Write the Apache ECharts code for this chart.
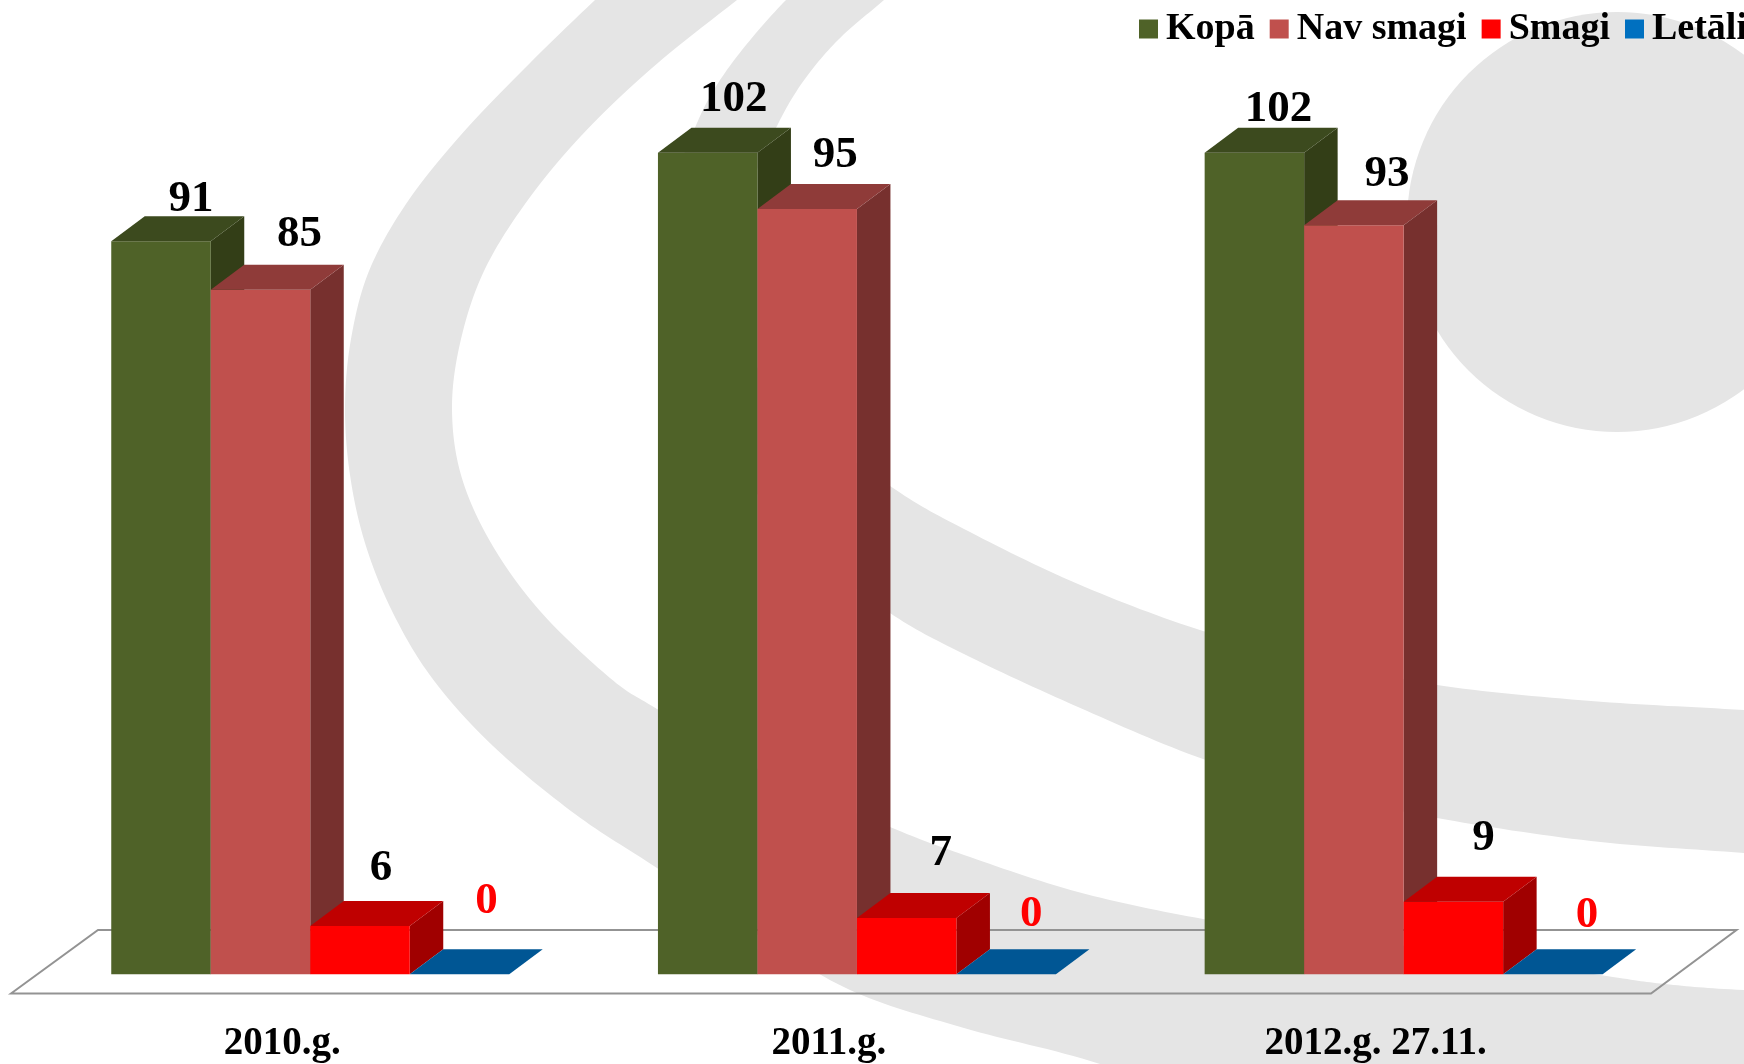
<!DOCTYPE html>
<html>
<head>
<meta charset="utf-8">
<title>Kopā / Nav smagi / Smagi / Letāli</title>
<script src="https://cdn.jsdelivr.net/npm/echarts@6/dist/echarts.min.js"></script>
<style>
  html, body { margin: 0; padding: 0; background: #fff; overflow: hidden; }
  #chart { width: 1744px; height: 1064px; }
</style>
</head>
<body>
<div id="chart"></div>
<script>
var categories = ['2010.g.', '2011.g.', '2012.g. 27.11.'];
var seriesNames = ['Kopā', 'Nav smagi', 'Smagi', 'Letāli'];

var kopa = [91, 102, 102];
var navSmagi = [85, 95, 93];
var smagi = [6, 7, 9];
var letali = [0, 0, 0];

// face colours of each box: legend/front, top, side
var frontColors = ['#4f6228', '#c0504d', '#ff0000', '#005694'];
var legendColors = ['#4f6228', '#c0504d', '#ff0000', '#0070c0'];
var topColors = ['#3c4a1e', '#8f3b39', '#bf0000', '#005694'];
var sideColors = ['#333e17', '#77302e', '#a00000', '#005694'];
var labelColors = ['#000', '#000', '#000', '#f00'];

// hand placed data labels, px from the middle of the box front top edge
var labelNudge = [
  [[30, -42], [26, -53], [24, -43]],
  [[39, -55], [28, -54], [33, -51]],
  [[21, -58], [34, -65], [30, -63]],
  [[27, -73], [25, -60], [34, -59]]
];

var serif = '"Liberation Serif", "Times New Roman", serif';
var depthX = 33.5;
var depthY = 25;

var myChart = echarts.init(document.getElementById('chart'));

function poly(points, fill) {
  return { type: 'polygon', shape: { points: points }, style: { fill: fill, stroke: null } };
}

// 3D looking box, drawn from the axis scales
function renderBox(params, api) {
  var s = params.seriesIndex;
  var i = params.dataIndex;
  var value = api.value(1);
  var base = api.coord([api.value(0), 0]);
  var top = api.coord([api.value(0), value]);
  var barW = api.size([1, 0])[0] * 0.182;
  var x0 = base[0] - 2 * barW + s * barW;
  var x1 = x0 + barW;
  var y0 = base[1];
  var y1 = top[1];
  var children = [];

  if (value > 0) {
    children.push(poly([[x1, y0], [x1 + depthX, y0 - depthY], [x1 + depthX, y1 - depthY], [x1, y1]], sideColors[s]));
    children.push(poly([[x0, y0], [x1, y0], [x1, y1], [x0, y1]], frontColors[s]));
  }
  children.push(poly([[x0, y1], [x1, y1], [x1 + depthX, y1 - depthY], [x0 + depthX, y1 - depthY]], topColors[s]));
  children.push({
    type: 'text',
    z2: 10,
    style: {
      text: String(value),
      x: (x0 + x1) / 2 + labelNudge[s][i][0],
      y: y1 + labelNudge[s][i][1],
      fill: labelColors[s],
      font: 'bold 45px ' + serif,
      textAlign: 'center',
      textVerticalAlign: 'middle'
    }
  });
  return { type: 'group', children: children };
}

function boxSeries(idx, values) {
  return {
    name: seriesNames[idx],
    type: 'custom',
    renderItem: renderBox,
    itemStyle: { color: legendColors[idx] },
    encode: { x: 0, y: 1 },
    data: values.map(function (v, i) { return [categories[i], v]; })
  };
}

// closed smooth outline through the given points, for the watermark shapes
function smoothOutline(pts) {
  var n = pts.length;
  var out = [];
  for (var i = 0; i < n; i++) {
    var p0 = pts[(i - 1 + n) % n], p1 = pts[i], p2 = pts[(i + 1) % n], p3 = pts[(i + 2) % n];
    for (var k = 0; k < 16; k++) {
      var t = k / 16;
      out.push([0, 1].map(function (c) {
        return 0.5 * (2 * p1[c] + (p2[c] - p0[c]) * t +
          (2 * p0[c] - 5 * p1[c] + 4 * p2[c] - p3[c]) * t * t +
          (3 * p1[c] - p0[c] - 3 * p2[c] + p3[c]) * t * t * t);
      }));
    }
  }
  return out;
}

var swooshOuter = [
  [640, -40], [595, 0], [525, 68], [460, 136], [406, 204], [369, 271], [351, 339], [345, 407],
  [350, 475], [365, 543], [392, 611], [432, 678], [493, 746], [575, 814], [657, 868], [750, 930],
  [850, 990], [964, 1028], [1100, 1064], [1250, 1120], [1900, 1120], [1900, 995], [1744, 990],
  [1665, 984], [1600, 975], [1437, 950], [1320, 936], [1203, 919], [1078, 892], [964, 855],
  [890, 827], [760, 770], [657, 709], [610, 678], [540, 611], [491, 543], [461, 475], [452, 407],
  [461, 339], [484, 271], [525, 204], [581, 136], [652, 68], [737, 0], [790, -40]
];
var swooshInner = [
  [830, -40], [786, 0], [742, 50], [712, 93], [692, 135], [672, 190], [665, 260], [680, 350],
  [740, 470], [810, 550], [890, 613], [964, 654], [1078, 707], [1203, 759], [1320, 792], [1437, 818],
  [1591, 841], [1744, 853], [1900, 865], [1900, 720], [1744, 710], [1591, 701], [1437, 685],
  [1320, 660], [1203, 631], [1078, 584], [964, 529], [890, 486], [790, 410], [745, 340], [737, 260],
  [750, 190], [775, 130], [802, 83], [838, 40], [884, 0], [930, -40]
];

var option = {
  backgroundColor: '#fff',
  animation: false,
  legend: {
    left: 1134,
    top: 5,
    width: 800,
    icon: 'rect',
    itemWidth: 19,
    itemHeight: 19,
    itemGap: 15,
    selectedMode: false,
    data: seriesNames,
    textStyle: {
      color: '#000',
      fontFamily: serif,
      fontWeight: 'bold',
      fontSize: 38,
      padding: [0, 0, 0, 3]
    }
  },
  grid: { left: 36.9, top: 7.7, width: 1640.1, height: 966.6, outerBoundsMode: 'none' },
  xAxis: {
    type: 'category',
    data: categories,
    axisLine: { show: false },
    axisTick: { show: false },
    axisLabel: {
      color: '#000',
      fontFamily: serif,
      fontWeight: 'bold',
      fontSize: 39,
      margin: 50,
      padding: [0, 56, 0, 0]
    }
  },
  yAxis: { type: 'value', min: 0, max: 120, show: false },
  graphic: [
    { type: 'polygon', z: 0, shape: { points: smoothOutline(swooshOuter) }, style: { fill: '#e5e5e5' } },
    { type: 'polygon', z: 0, shape: { points: smoothOutline(swooshInner) }, style: { fill: '#e5e5e5' } },
    { type: 'circle', z: 0, shape: { cx: 1617, cy: 222, r: 210 }, style: { fill: '#e5e5e5' } },
    {
      type: 'polygon',
      z: 1,
      shape: { points: [[11, 993.5], [98, 930], [1736.5, 930], [1651, 993.5]] },
      style: { fill: 'none', stroke: '#939393', lineWidth: 2 }
    }
  ],
  series: [
    boxSeries(0, kopa),
    boxSeries(1, navSmagi),
    boxSeries(2, smagi),
    boxSeries(3, letali)
  ]
};

myChart.setOption(option);
</script>
</body>
</html>
